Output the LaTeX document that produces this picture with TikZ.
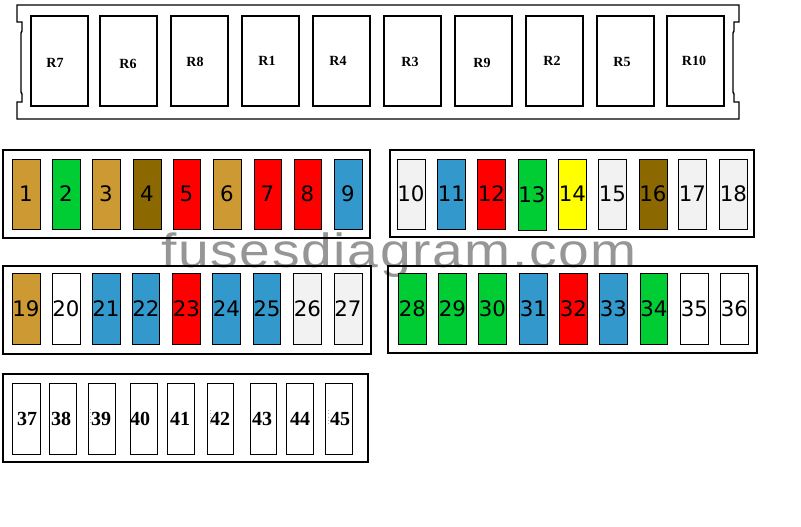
\documentclass[tikz,border=0pt]{standalone}
\usepackage{fontspec}
\usepackage{graphicx}
\setmainfont{Liberation Serif}
\newfontfamily\fusefont{DejaVu Sans}
\newfontfamily\wmfont{Liberation Sans}[LetterSpace=3]
\definecolor{fgold}{RGB}{204,153,51}
\definecolor{fgreen}{RGB}{0,204,51}
\definecolor{folive}{RGB}{139,105,0}
\definecolor{fred}{RGB}{255,0,0}
\definecolor{fblue}{RGB}{51,153,204}
\definecolor{fyellow}{RGB}{255,255,0}
\definecolor{flgray}{RGB}{242,242,242}
\definecolor{wmgray}{RGB}{150,150,150}
\tikzset{
  fusebox/.style={draw,line width=0.75pt,inner sep=0pt,
    font=\fusefont\fontsize{16pt}{18pt}\selectfont},
  relaybox/.style={draw,line width=0.9pt,inner sep=0pt,fill=white},
  relaylabel/.style={inner sep=0pt,font=\bfseries\fontsize{10.5pt}{12pt}\selectfont},
  smalllabel/.style={inner sep=0pt,font=\bfseries\fontsize{15pt}{17pt}\selectfont},
  rowframe/.style={draw,line width=1pt,inner sep=0pt},
  tick/.style={gray!60,line width=0.5pt,dotted}
}
\newcommand\fuseat[7]{\node[fusebox,fill=#6,minimum width={(#3-#2)*0.75pt},minimum height={(#5-#4)*0.75pt}] (#1) at ({(#2+#3)/2},{(#4+#5)/2}) {#7};}
\newcommand\frameat[5]{\node[rowframe,minimum width={(#4-#2)*0.75pt},minimum height={(#5-#3)*0.75pt}] (#1) at ({(#2+#4)/2},{(#3+#5)/2}) {};}
\begin{document}
\begin{tikzpicture}[x=0.75pt,y=-0.75pt]
\useasboundingbox (0,0) rectangle (801,526);
% watermark
\node[anchor=base west,inner sep=0pt,text=wmgray] (wm) at (161,267)
  {\scalebox{1.15}[1]{\wmfont\fontsize{36pt}{42pt}\selectfont fusesdiagram.com}};
% relay block outline
\draw[line width=1.1pt] (17,5) -- (739,5) -- (739,22) -- (734,22) -- (734,31) -- (733,33)
  -- (733,92) -- (734,94) -- (734,102) -- (739,102) -- (739,119) -- (17,119)
  -- (17,102) -- (22,102) -- (22,94) -- (21,92) -- (21,33) -- (22,31) -- (22,22)
  -- (17,22) -- cycle;
\foreach \n/\a/\lx/\ly in {R7/31/55/63,R6/100/128/64,R8/171/195/62,R1/242/267/61,
  R4/313/338/61,R3/384/410/62,R9/455/482/63,R2/526/552/61,R5/597/622/62,R10/667/694/61}{
  \node[relaybox,minimum width=42.75pt,minimum height=67.5pt] (\n) at ({\a+28.5},61) {};
  \node[relaylabel] (l\n) at (\lx,\ly) {\n};
}
% row frames
\frameat{boxA}{3}{150}{370}{238}
\frameat{boxB}{390}{150}{754}{237}
\frameat{boxC}{3}{266}{371}{354}
\frameat{boxD}{388}{266}{757}{353}
\frameat{boxE}{3}{374}{368}{462}
% row 1
\foreach \n/\a/\b/\c in {1/12/40/fgold,2/52/80/fgreen,3/92/120/fgold,4/133/161/folive,
  5/173/200/fred,6/213/241/fgold,7/254/281/fred,8/294/321/fred,9/334/362/fblue,
  10/397/425/flgray,11/438/465/fblue,12/478/505/fred,14/559/586/fyellow,
  15/599/626/flgray,16/639/667/folive,17/679/706/flgray,18/720/747/flgray}{
  \fuseat{f\n}{\a}{\b}{159}{229}{\c}{\n}
}
\fuseat{f13}{518}{546}{159}{230}{fgreen}{13}
% row 2
\foreach \n/\a/\b/\c in {19/12/40/fgold,20/52/80/white,21/92/120/fblue,22/133/159/fblue,
  23/173/200/fred,24/213/240/fblue,25/254/280/fblue,26/294/321/flgray,27/334/362/flgray,
  28/399/426/fgreen,29/439/466/fgreen,30/479/506/fgreen,31/520/547/fblue,32/560/587/fred,
  33/600/627/fblue,34/641/667/fgreen,35/681/708/white,36/721/748/white}{
  \fuseat{f\n}{\a}{\b}{273}{344}{\c}{\n}
}
% row 3
\foreach \n/\a/\b/\lx in {37/12/40/27,38/49/76/61,39/88/115/101,40/130/157/140,
  41/167/194/180,42/207/233/220,43/250/276/262,44/286/313/300,45/325/352/340}{
  \fuseat{f\n}{\a}{\b}{383}{454}{white}{}
  \node[smalllabel] (t\n) at (\lx,419) {\n};
}
\draw[tick] (90.7,409) -- (90.7,425);
\draw[tick] (210.7,410) -- (210.7,425);
\draw[tick] (328.5,410) -- (328.5,425);
\end{tikzpicture}
\end{document}
